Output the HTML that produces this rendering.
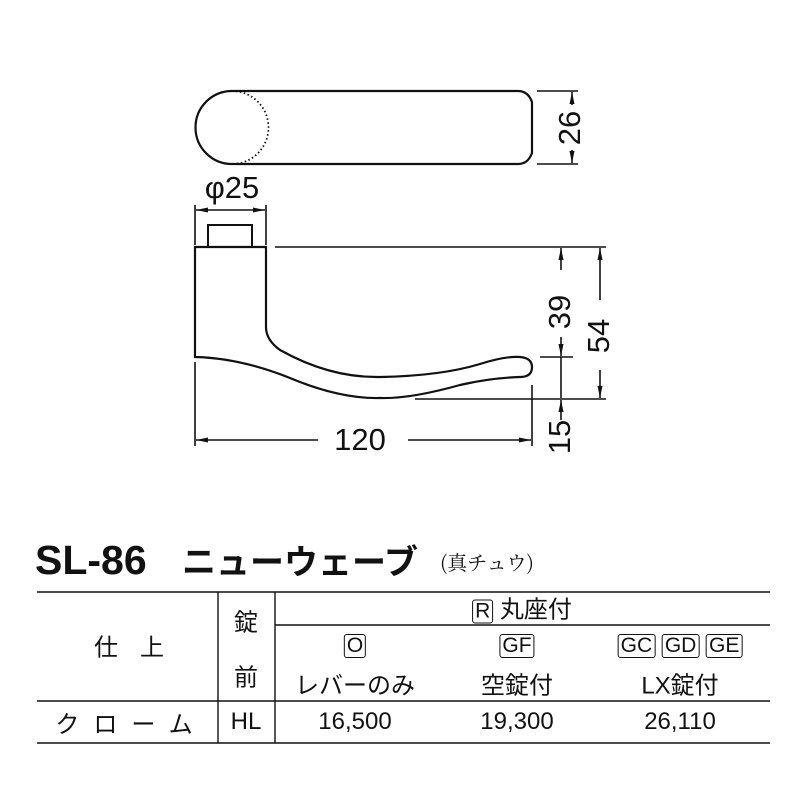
<!DOCTYPE html>
<html><head><meta charset="utf-8"><style>
body{margin:0;background:#fff;width:800px;height:800px;overflow:hidden;position:relative;font-family:"Liberation Sans","Noto Sans CJK JP",sans-serif;color:#111}
.t{position:absolute;white-space:nowrap;transform:translate(-50%,-50%);font-size:24px}
.d{font-size:31px}
.b{border:1.5px solid #111;border-radius:3px;padding:0 2px;font-size:21px;line-height:22px;display:inline-block}
</style></head><body>
<svg width="800" height="800" style="position:absolute;left:0;top:0" fill="none" stroke="#111" stroke-width="1.6">
<defs><marker id="a" markerWidth="12" markerHeight="8" refX="12" refY="4" orient="auto" markerUnits="userSpaceOnUse"><path d="M0,1.5 L12,4 L0,6.5z" fill="#111" stroke="none"/></marker></defs>
<path d="M232,91 H518 Q528,91 532,102 V153 Q528,164 518,164 H232 A36.5,36.5 0 0 1 232,91 Z" stroke-width="2.2"/>
<path d="M232,91 A36.5,36.5 0 0 1 232,164" stroke-dasharray="1.5,2.5" stroke-width="1.8"/>
<line x1="537" y1="91" x2="578" y2="91"/><line x1="537" y1="164" x2="578" y2="164"/>
<line x1="572" y1="105" x2="572" y2="92" marker-end="url(#a)"/><line x1="572" y1="150" x2="572" y2="163" marker-end="url(#a)"/>
<line x1="195" y1="205" x2="195" y2="245"/><line x1="266" y1="205" x2="266" y2="245"/>
<line x1="230" y1="210" x2="196" y2="210" marker-end="url(#a)"/><line x1="230" y1="210" x2="265" y2="210" marker-end="url(#a)"/>
<rect x="208" y="225" width="44" height="22" stroke-width="2"/>
<path d="M195,357 V247 H266 V327 Q266,340 280,350 Q330,378 380,377 Q440,376 480,364 Q505,356 520,357 Q532,358 532,367 Q532,377 520,377 Q490,378 460,385 Q410,399 380,398 Q340,399 290,378 Q240,358 195,357 Z" stroke-width="2.2"/>
<line x1="275" y1="247" x2="606" y2="247"/><line x1="415" y1="399" x2="606" y2="399"/>
<line x1="540" y1="357" x2="573" y2="357"/>
<line x1="600" y1="300" x2="600" y2="248" marker-end="url(#a)"/><line x1="600" y1="370" x2="600" y2="398" marker-end="url(#a)"/>
<line x1="561" y1="270" x2="561" y2="248" marker-end="url(#a)"/><line x1="561" y1="337" x2="561" y2="356" marker-end="url(#a)"/>
<line x1="561" y1="357" x2="561" y2="398"/><line x1="561" y1="420" x2="561" y2="400" marker-end="url(#a)"/>
<line x1="195" y1="362" x2="195" y2="446"/><line x1="532" y1="385" x2="532" y2="446"/>
<line x1="318" y1="440" x2="196" y2="440" marker-end="url(#a)"/><line x1="408" y1="440" x2="531" y2="440" marker-end="url(#a)"/>
<g stroke-width="1.4"><line x1="37" y1="592" x2="770" y2="592"/><line x1="275" y1="625" x2="770" y2="625"/>
<line x1="37" y1="701" x2="770" y2="701"/><line x1="37" y1="743" x2="770" y2="743"/>
<line x1="218" y1="592" x2="218" y2="743"/><line x1="275" y1="592" x2="275" y2="743"/></g>
</svg>
<div class="t d" style="left:232px;top:188px">φ25</div>
<div class="t d" style="left:570px;top:128px;transform:translate(-50%,-50%) rotate(-90deg)">26</div>
<div class="t d" style="left:560px;top:312px;transform:translate(-50%,-50%) rotate(-90deg)">39</div>
<div class="t d" style="left:599px;top:336px;transform:translate(-50%,-50%) rotate(-90deg)">54</div>
<div class="t d" style="left:560px;top:437px;transform:translate(-50%,-50%) rotate(-90deg)">15</div>
<div class="t d" style="left:360px;top:440px">120</div>
<div style="position:absolute;left:35px;top:536px;font-size:41px;font-weight:bold;white-space:nowrap;line-height:48px">SL-86</div>
<div style="position:absolute;left:182px;top:536px;font-size:34px;font-weight:bold;white-space:nowrap;font-family:'Noto Sans CJK JP',sans-serif;line-height:48px">ニューウェーブ</div>
<div style="position:absolute;left:440px;top:547px;font-size:20px;white-space:nowrap;font-family:'Noto Serif CJK SC',serif">(真チュウ)</div>
<div class="t" style="left:140px;top:645px;letter-spacing:22px">仕上</div>
<div class="t" style="left:246px;top:620px">錠</div>
<div class="t" style="left:246px;top:675px">前</div>
<div class="t" style="left:522px;top:607px"><span class="b">R</span> 丸座付</div>
<div class="t" style="left:355px;top:645px"><span class="b">O</span></div>
<div class="t" style="left:517px;top:645px"><span class="b">GF</span></div>
<div class="t" style="left:680px;top:645px"><span class="b">GC</span> <span class="b">GD</span> <span class="b">GE</span></div>
<div class="t" style="left:355px;top:683px">レバーのみ</div>
<div class="t" style="left:517px;top:683px">空錠付</div>
<div class="t" style="left:680px;top:683px">LX錠付</div>
<div class="t" style="left:131px;top:722px;letter-spacing:14px">クローム</div>
<div class="t" style="left:246px;top:722px">HL</div>
<div class="t" style="left:355px;top:722px">16,500</div>
<div class="t" style="left:517px;top:722px">19,300</div>
<div class="t" style="left:680px;top:722px">26,110</div>
</body></html>
